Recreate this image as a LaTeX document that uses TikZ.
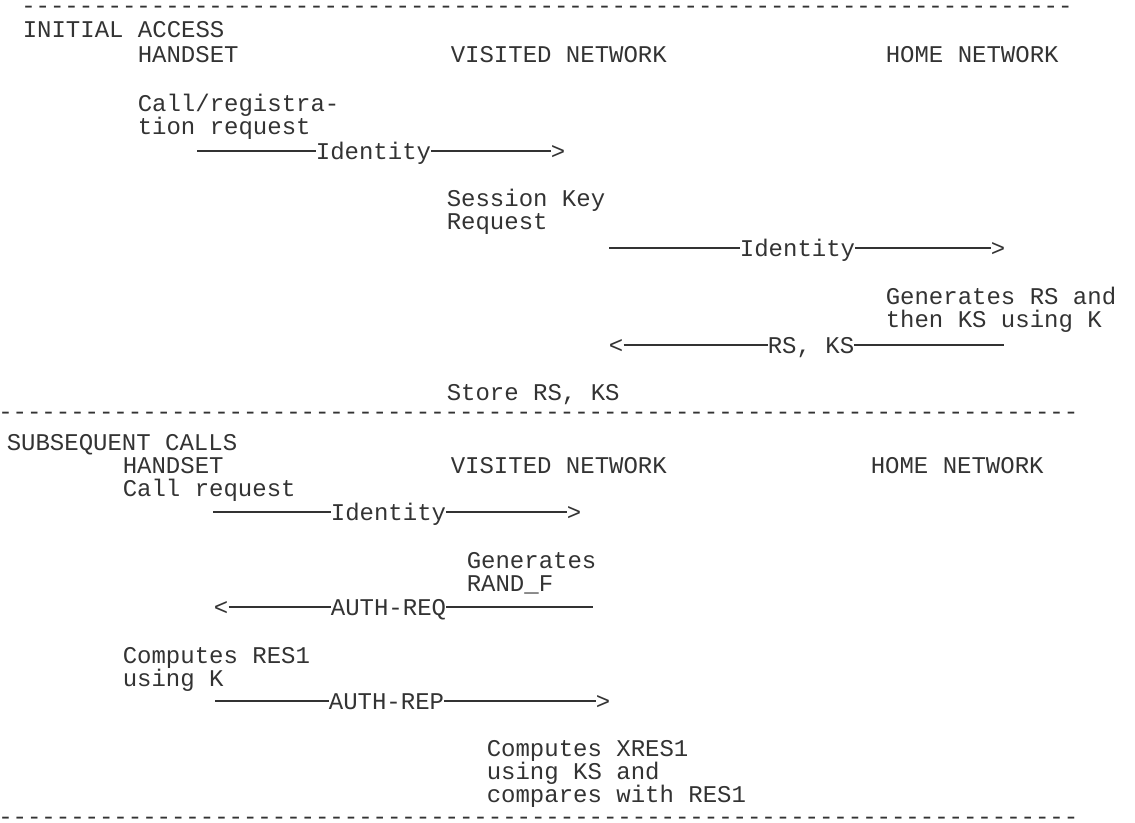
\documentclass[tikz,border=0pt]{standalone}
\usepackage{fontspec}
\newfontfamily\monofam{Liberation Mono}
\definecolor{ink}{rgb}{0.2,0.2,0.2}
\begin{document}
\begin{tikzpicture}[x=0.75pt,y=-0.75pt,
  txt/.style={anchor=base west,inner sep=0pt,font=\monofam\fontsize{18}{18}\selectfont,text=ink},
  sepline/.style={txt,text height=6pt,text depth=0pt},
  msg/.style={inner sep=0pt,font=\monofam\fontsize{18}{18}\selectfont,text=ink,text height=14pt,text depth=2pt},
  wire/.style={draw=ink,line width=1.1pt}]
\useasboundingbox (0,0) rectangle (1135,822);
% separators
\node[sepline] (sep1) at (21,13.5) {-------------------------------------------------------------------------};
\node[sepline] (sep2) at (-2,419.5) {---------------------------------------------------------------------------};
\node[sepline] (sep3) at (-2,824.5) {---------------------------------------------------------------------------};
% initial access
\node[txt] (ia) at (22.5,37) {INITIAL ACCESS};
\node[txt] (hs1) at (137.5,62) {HANDSET};
\node[txt] (vn1) at (450.5,62) {VISITED NETWORK};
\node[txt] (hn1) at (885.5,62) {HOME NETWORK};
\node[txt] (cr1) at (137.5,111) {Call/registra-};
\node[txt] (cr2) at (137.5,134) {tion request};
% M1
\coordinate (m1s) at (197,151);
\node[msg] (m1l) at (373.5,151) {Identity};
\node[msg,anchor=west] (m1h) at (550.5,151) {>};
\draw[wire] (m1s) -- (m1l.west) (m1l.east) -- (m1h.west);
\node[txt] (sk1) at (446.5,206) {Session Key};
\node[txt] (sk2) at (446.5,229) {Request};
% M2
\coordinate (m2s) at (609,248);
\node[msg] (m2l) at (797.5,248) {Identity};
\node[msg,anchor=west] (m2h) at (990.5,248) {>};
\draw[wire] (m2s) -- (m2l.west) (m2l.east) -- (m2h.west);
\node[txt] (g1) at (885.5,304) {Generates RS and};
\node[txt] (g2) at (885.5,327) {then KS using K};
% M3
\node[msg,anchor=east] (m3h) at (623.5,345) {<};
\node[msg] (m3l) at (811,345) {RS, KS};
\coordinate (m3e) at (1004,345);
\draw[wire] (m3h.east) -- (m3l.west) (m3l.east) -- (m3e);
\node[txt] (st) at (446.5,400) {Store RS, KS};
% subsequent calls
\node[txt] (sc) at (6.5,450) {SUBSEQUENT CALLS};
\node[txt] (hs2) at (122.5,473) {HANDSET};
\node[txt] (vn2) at (450.5,473) {VISITED NETWORK};
\node[txt] (hn2) at (870.5,473) {HOME NETWORK};
\node[txt] (cq) at (122.5,496) {Call request};
% M4
\coordinate (m4s) at (213,512);
\node[msg] (m4l) at (388.5,512) {Identity};
\node[msg,anchor=west] (m4h) at (566.5,512) {>};
\draw[wire] (m4s) -- (m4l.west) (m4l.east) -- (m4h.west);
\node[txt] (gr1) at (466.5,568) {Generates};
\node[txt] (gr2) at (466.5,591) {RAND\_F};
% M5
\node[msg,anchor=east] (m5h) at (228.5,607) {<};
\node[msg] (m5l) at (388.5,607) {AUTH-REQ};
\coordinate (m5e) at (593,607);
\draw[wire] (m5h.east) -- (m5l.west) (m5l.east) -- (m5e);
\node[txt] (cp1) at (122.5,663) {Computes RES1};
\node[txt] (cp2) at (122.5,686) {using K};
% M6
\coordinate (m6s) at (215,701);
\node[msg] (m6l) at (386.5,701) {AUTH-REP};
\node[msg,anchor=west] (m6h) at (595.5,701) {>};
\draw[wire] (m6s) -- (m6l.west) (m6l.east) -- (m6h.west);
\node[txt] (cx1) at (486.5,756) {Computes XRES1};
\node[txt] (cx2) at (486.5,779) {using KS and};
\node[txt] (cx3) at (486.5,802) {compares with RES1};
\end{tikzpicture}
\end{document}
